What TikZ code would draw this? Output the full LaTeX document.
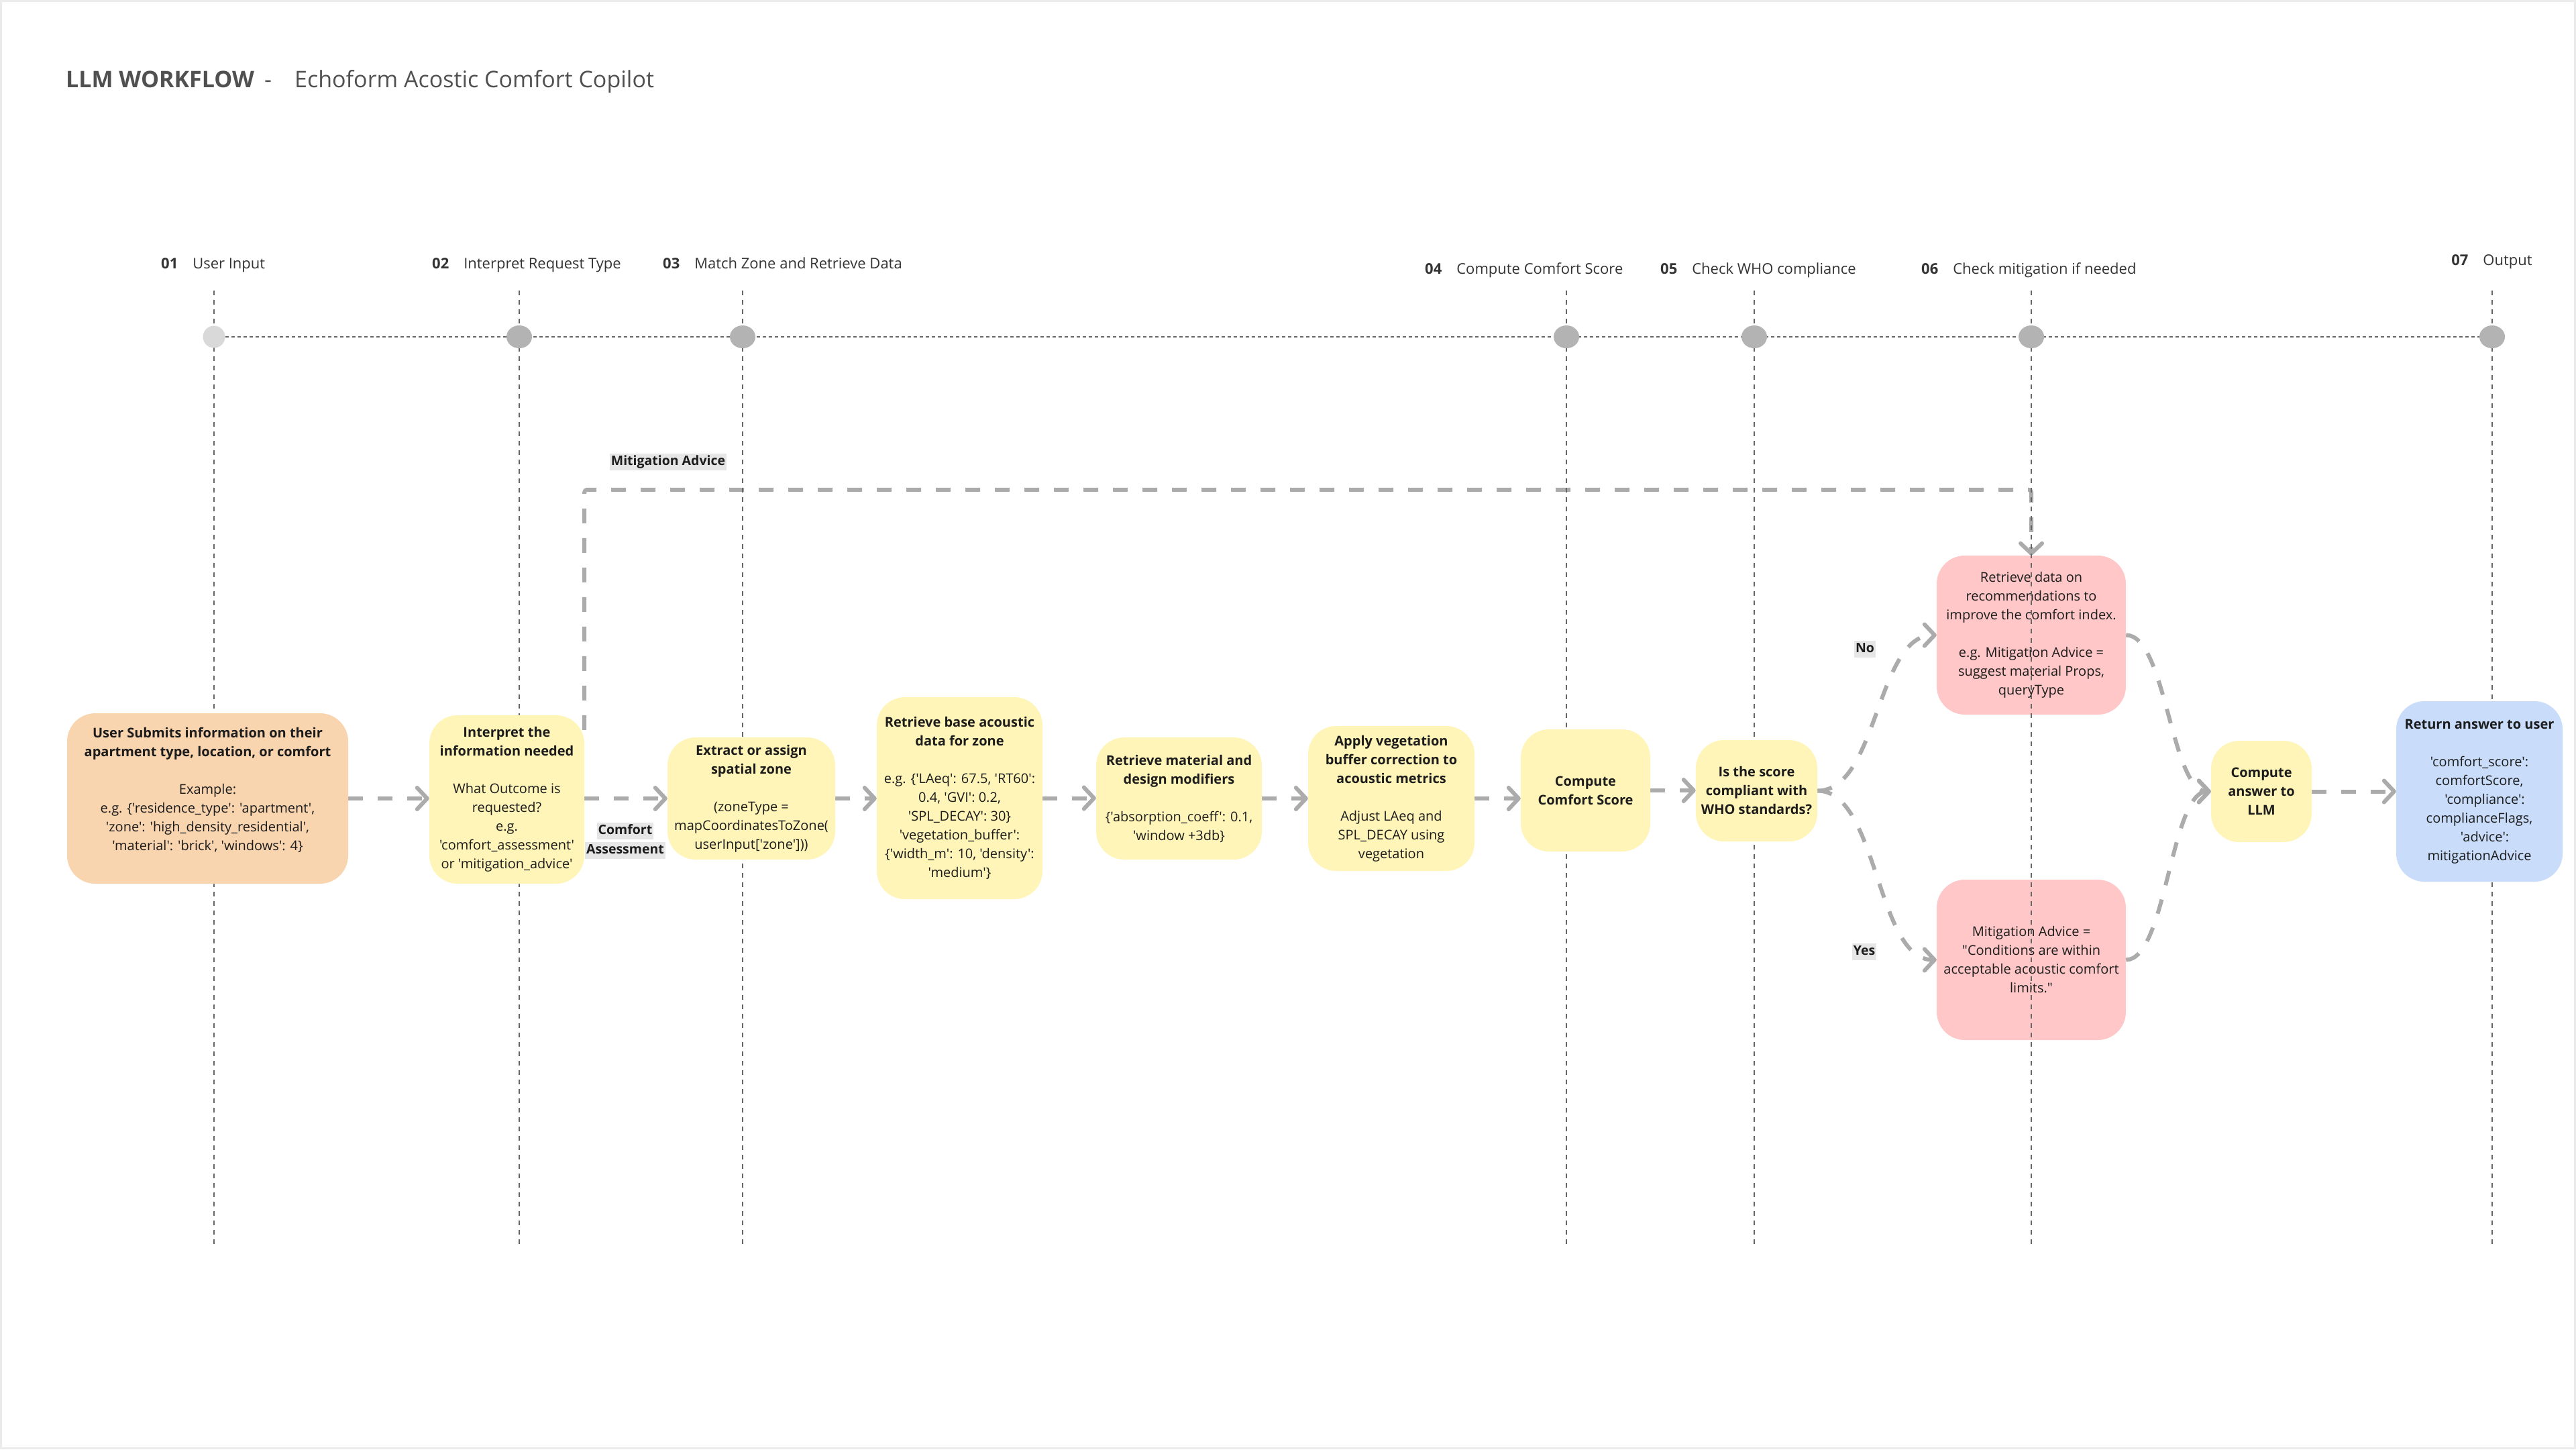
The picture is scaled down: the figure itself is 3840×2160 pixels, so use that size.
\documentclass[tikz,border=0pt]{standalone}
\usepackage{fontspec}
\setmainfont{Open Sans}
\newfontfamily\nsans{Open Sans}
\usetikzlibrary{arrows.meta,calc,shapes.geometric}
\definecolor{peach}{HTML}{F8D4AF}
\definecolor{ylw}{HTML}{FFF5B8}
\definecolor{pinkbox}{HTML}{FFC7C7}
\definecolor{sky}{HTML}{C9DDFB}
\definecolor{arrowgray}{HTML}{ABABAB}
\definecolor{guidegray}{HTML}{666666}
\definecolor{labelbg}{HTML}{E6E6E6}
\definecolor{titlegray}{HTML}{505050}
\definecolor{txt}{HTML}{1C1C1C}
\definecolor{dotgray}{HTML}{B3B3B3}
\definecolor{dotlight}{HTML}{D9D9D9}
\definecolor{bordergray}{HTML}{EBEBEB}
\newcommand\myfs[2]{\nsans\fontsize{#1}{#2}\selectfont}
\pgfdeclarelayer{redl}\pgfdeclarelayer{connl}\pgfdeclarelayer{guidel}
\pgfsetlayers{redl,connl,guidel,main}
\tikzset{
  box/.style={rounded corners=42pt, inner sep=8pt, align=center, text=txt, font=\myfs{20}{28}},
  conn/.style={draw=arrowgray, line width=6pt, dash pattern=on 22pt off 22pt,
    -{Straight Barb[length=15pt,width=32pt,round]}},
  guide/.style={draw=guidegray, line width=1.5pt, dash pattern=on 7pt off 7pt},
  tline/.style={draw=guidegray, line width=1.8pt, dash pattern=on 5pt off 4pt},
  tag/.style={fill=labelbg, inner xsep=2pt, inner ysep=3pt, text height=15pt, text depth=4pt,
    font=\myfs{19.5}{24}\bfseries, text=txt},
  steplbl/.style={anchor=base west, inner sep=0pt, text=txt!90!white, font=\myfs{22}{26}},
  tdot/.style={ellipse, fill=dotgray, minimum width=38pt, minimum height=34pt, inner sep=0pt},
  tdotl/.style={circle, fill=dotlight, minimum size=33pt, inner sep=0pt},
  ttl/.style={anchor=base west, inner sep=0pt, text=titlegray, font=\myfs{34}{40}}
}
\begin{document}
\begin{tikzpicture}[x=1pt,y=-1pt]
\useasboundingbox (0,0) rectangle (3840,2160);
\draw[bordergray, line width=3pt] (1.5,1.5) rectangle (3838.5,2158.5);

% title
\node[ttl] (title1) at (98,130) {\bfseries LLM WORKFLOW};
\node[ttl] (titledash) at (394,130) {-};
\node[ttl] (title2) at (439,130) {Echoform Acostic Comfort Copilot};

% step labels
\node[steplbl] (s1) at (240,400) {\textbf{01}\hspace{22pt}User Input};
\node[steplbl] (s2) at (644,400) {\textbf{02}\hspace{22pt}Interpret Request Type};
\node[steplbl] (s3) at (988,400) {\textbf{03}\hspace{22pt}Match Zone and Retrieve Data};
\node[steplbl] (s4) at (2124,408) {\textbf{04}\hspace{22pt}Compute Comfort Score};
\node[steplbl] (s5) at (2475,408) {\textbf{05}\hspace{22pt}Check WHO compliance};
\node[steplbl] (s6) at (2864,408) {\textbf{06}\hspace{22pt}Check mitigation if needed};
\node[steplbl] (s7) at (3654,395) {\textbf{07}\hspace{22pt}Output};

% timeline dots
\node[tdotl] (t1) at (319,502) {};
\node[tdot] (t2) at (774,502) {};
\node[tdot] (t3) at (1107,502) {};
\node[tdot] (t4) at (2335,502) {};
\node[tdot] (t5) at (2615,502) {};
\node[tdot] (t6) at (3028,502) {};
\node[tdot] (t7) at (3715,502) {};

% main boxes
\node[box, fill=peach, minimum width=419pt, minimum height=254pt] (b1) at (309.5,1190)
 {\textbf{User Submits information on their}\\\textbf{apartment type, location, or comfort}\\[28pt]
  Example:\\e.g. \{'residence\_type': 'apartment',\\'zone': 'high\_density\_residential',\\
  'material': 'brick', 'windows': 4\}\\[0pt]\mbox{}};
\node[box, fill=ylw, minimum width=231pt, minimum height=251pt] (b2) at (755.5,1191.5)
 {\textbf{Interpret the}\\\textbf{information needed}\\[28pt]What Outcome is\\requested?\\e.g.\\
  'comfort\_assessment'\\or 'mitigation\_advice'};
\node[box, fill=ylw, minimum width=250pt, minimum height=182pt] (b3) at (1120,1190)
 {\textbf{Extract or assign}\\\textbf{spatial zone}\\[28pt](zoneType =\\mapCoordinatesToZone(\\userInput['zone']))};
\node[box, fill=ylw, minimum width=247pt, minimum height=301pt] (b4) at (1430.5,1189.5)
 {\textbf{Retrieve base acoustic}\\\textbf{data for zone}\\[28pt]e.g. \{'LAeq': 67.5, 'RT60':\\0.4, 'GVI': 0.2,\\
  'SPL\_DECAY': 30\}\\'vegetation\_buffer':\\\{'width\_m': 10, 'density':\\'medium'\}};
\node[box, fill=ylw, minimum width=247pt, minimum height=182pt] (b5) at (1757.5,1190)
 {\textbf{Retrieve material and}\\\textbf{design modifiers}\\[28pt]\{'absorption\_coeff': 0.1,\\'window +3db\}};
\node[box, fill=ylw, minimum width=248pt, minimum height=216pt] (b6) at (2074,1190)
 {\textbf{Apply vegetation}\\\textbf{buffer correction to}\\\textbf{acoustic metrics}\\[28pt]Adjust LAeq and\\SPL\_DECAY using\\vegetation};
\node[box, fill=ylw, minimum width=193pt, minimum height=182pt] (b7) at (2363.5,1178)
 {\textbf{Compute}\\\textbf{Comfort Score}};
\node[box, fill=ylw, minimum width=177pt, minimum height=151pt] (b8) at (2618.5,1178.5)
 {\textbf{Is the score}\\\textbf{compliant with}\\\textbf{WHO standards?}};
\node[box, fill=ylw, minimum width=150pt, minimum height=151pt] (b11) at (3371,1179.5)
 {\textbf{Compute}\\\textbf{answer to}\\\textbf{LLM}};
\node[box, fill=sky, minimum width=248pt, minimum height=269pt] (b12) at (3696,1179.5)
 {\textbf{Return answer to user}\\[28pt]'comfort\_score':\\comfortScore,\\\hspace*{16pt}'compliance':\\
  complianceFlags,\\\hspace*{16pt}'advice':\\mitigationAdvice};

\begin{pgfonlayer}{redl}
\node[box, fill=pinkbox, minimum width=282pt, minimum height=237pt] (b9) at (3028,946.5)
 {Retrieve data on\\recommendations to\\improve the comfort index.\\[28pt]e.g. Mitigation Advice =\\
  suggest material Props,\\queryType};
\node[box, fill=pinkbox, minimum width=282pt, minimum height=239pt] (b10) at (3028,1430.5)
 {Mitigation Advice =\\"Conditions are within\\acceptable acoustic comfort\\limits."};
\end{pgfonlayer}

% labels
\node[tag] (lma) at (996,688) {Mitigation Advice};
\node[tag] (lca1) at (932,1238) {Comfort};
\node[tag] (lca2) at (932,1267) {Assessment};
\node[tag] (lno) at (2780,967) {No};
\node[tag] (lyes) at (2779,1418) {Yes};

% connectors
\begin{pgfonlayer}{connl}
\draw[conn] (b1.east) -- (b1.east -| b2.west);
\draw[conn] (b2.east |- b3.west) -- (b3.west);
\draw[conn] (b3.east) -- (b3.east -| b4.west);
\draw[conn] (b4.east) -- (b4.east -| b5.west);
\draw[conn] (b5.east) -- (b5.east -| b6.west);
\draw[conn] (b6.east) -- (b6.east -| b7.west);
\draw[conn] (b7.east) -- (b7.east -| b8.west);
\draw[conn] (b8.east) .. controls +(90,0) and +(-90,0) .. (b9.west);
\draw[conn] (b8.east) .. controls +(90,0) and +(-90,0) .. (b10.west);
\draw[conn] (b9.east) .. controls +(60,0) and +(-60,0) .. (b11.west);
\draw[conn] (b10.east) .. controls +(60,0) and +(-60,0) .. (b11.west);
\draw[conn] (b11.east) -- (b11.east -| b12.west);
\coordinate (m0) at ($(b2.north east)+(0,22)$);
\draw[conn, rounded corners=4pt] (m0) -- ++(0,-358) -| (b9.north);
\end{pgfonlayer}

% guides
\begin{pgfonlayer}{guidel}
\foreach \gx in {319,774,1107,2335,2615,3028,3715}
  \draw[guide] (\gx,433) -- (\gx,1857);
\draw[tline] (t1) -- (t7);
\end{pgfonlayer}
\end{tikzpicture}
\end{document}
